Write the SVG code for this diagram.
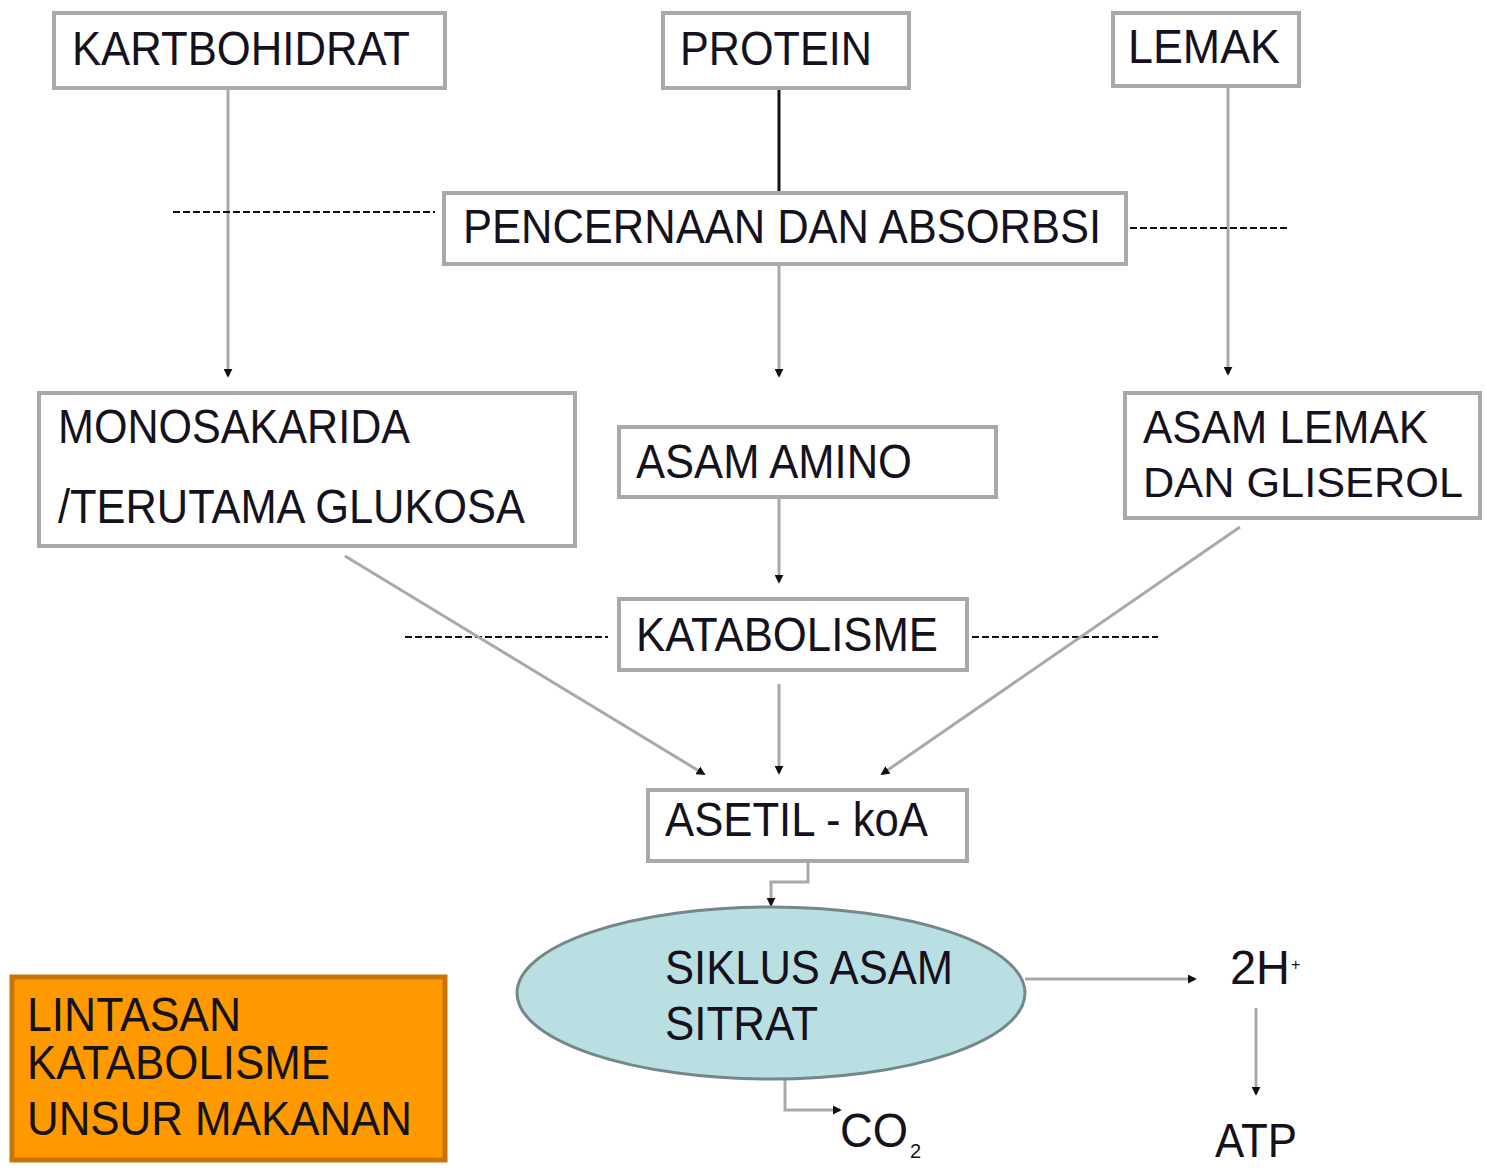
<svg xmlns="http://www.w3.org/2000/svg" width="1485" height="1168" viewBox="0 0 1485 1168">
<style>
.box{fill:#fff;stroke:#a9a9a9;stroke-width:4}
.t{font-family:"Liberation Sans",Arial,sans-serif;font-size:48px;fill:#15121e}
.ln{fill:none;stroke:#a9a9a9;stroke-width:3}
.dk{fill:none;stroke:#111;stroke-width:3}
.ds{fill:none;stroke:#111;stroke-width:2;stroke-dasharray:7,3}
</style>
<defs>
<marker id="ah" viewBox="0 0 10 10" refX="8" refY="5" markerWidth="3" markerHeight="3" orient="auto" markerUnits="strokeWidth">
<path d="M0,0 L10,5 L0,10 z" fill="#111"/>
</marker>
</defs>
<rect width="1485" height="1168" fill="#fff"/>
<g id="connectors">
<line class="ln" x1="228" y1="88" x2="228" y2="376" marker-end="url(#ah)"/>
<line class="dk" x1="779" y1="88" x2="779" y2="192"/>
<line class="ln" x1="779" y1="264" x2="779" y2="376" marker-end="url(#ah)"/>
<line class="ln" x1="1228" y1="86" x2="1228" y2="374" marker-end="url(#ah)"/>
<line class="ds" x1="173" y1="212" x2="435" y2="212"/>
<line class="ds" x1="1130" y1="228" x2="1290" y2="228"/>
<line class="ln" x1="779" y1="498" x2="779" y2="582" marker-end="url(#ah)"/>
<line class="ds" x1="405" y1="637" x2="608" y2="637"/>
<line class="ds" x1="972" y1="637" x2="1158" y2="637"/>
<line class="ln" x1="779" y1="684" x2="779" y2="773" marker-end="url(#ah)"/>
<line class="ln" x1="345" y1="556" x2="704" y2="774" marker-end="url(#ah)"/>
<line class="ln" x1="1240" y1="527" x2="882" y2="774" marker-end="url(#ah)"/>
<polyline class="ln" points="808,862 808,882 771,882 771,905" marker-end="url(#ah)"/>
<line class="ln" x1="1025" y1="979" x2="1195" y2="979" marker-end="url(#ah)"/>
<line class="ln" x1="1256" y1="1008" x2="1256" y2="1094" marker-end="url(#ah)"/>
<polyline class="ln" points="785,1080 785,1110 840,1110" marker-end="url(#ah)"/>
</g>
<g id="kartbohidrat">
<rect class="box" x="54" y="13" width="391" height="75"/>
<text class="t" x="72" y="65" textLength="338" lengthAdjust="spacingAndGlyphs">KARTBOHIDRAT</text>
</g>
<g id="protein">
<rect class="box" x="663" y="13" width="246" height="75"/>
<text class="t" x="680" y="65" textLength="192" lengthAdjust="spacingAndGlyphs">PROTEIN</text>
</g>
<g id="lemak">
<rect class="box" x="1113" y="13" width="186" height="73"/>
<text class="t" x="1128" y="63" textLength="152" lengthAdjust="spacingAndGlyphs">LEMAK</text>
</g>
<g id="pencernaan">
<rect class="box" x="444" y="193" width="682" height="71"/>
<text class="t" x="463" y="243" textLength="638" lengthAdjust="spacingAndGlyphs">PENCERNAAN DAN ABSORBSI</text>
</g>
<g id="monosakarida">
<rect class="box" x="39" y="393" width="536" height="153"/>
<text class="t" x="58" y="443" textLength="352" lengthAdjust="spacingAndGlyphs">MONOSAKARIDA</text>
<text class="t" x="58" y="523" textLength="467" lengthAdjust="spacingAndGlyphs">/TERUTAMA GLUKOSA</text>
</g>
<g id="asam-amino">
<rect class="box" x="619" y="427" width="377" height="70"/>
<text class="t" x="636" y="478" textLength="276" lengthAdjust="spacingAndGlyphs">ASAM AMINO</text>
</g>
<g id="asam-lemak">
<rect class="box" x="1125" y="393" width="355" height="125"/>
<text class="t" x="1143" y="443" style="font-size:46px" textLength="285" lengthAdjust="spacingAndGlyphs">ASAM LEMAK</text>
<text class="t" x="1143" y="497" style="font-size:43px" textLength="320" lengthAdjust="spacingAndGlyphs">DAN GLISEROL</text>
</g>
<g id="katabolisme">
<rect class="box" x="619" y="599" width="348" height="71"/>
<text class="t" x="636" y="651" textLength="302" lengthAdjust="spacingAndGlyphs">KATABOLISME</text>
</g>
<g id="asetil">
<rect class="box" x="648" y="790" width="319" height="71"/>
<text class="t" x="665" y="836" textLength="263" lengthAdjust="spacingAndGlyphs">ASETIL - koA</text>
</g>
<g id="siklus">
<ellipse cx="771" cy="993" rx="254" ry="86" fill="#badfe3" stroke="#74878a" stroke-width="3"/>
<text class="t" x="665" y="984" textLength="288" lengthAdjust="spacingAndGlyphs">SIKLUS ASAM</text>
<text class="t" x="665" y="1040" textLength="153" lengthAdjust="spacingAndGlyphs">SITRAT</text>
</g>
<g id="h2">
<text class="t" x="1230" y="984" textLength="60" lengthAdjust="spacingAndGlyphs">2H</text>
<text class="t" x="1291" y="970" style="font-size:16px">+</text>
</g>
<g id="atp">
<text class="t" x="1215" y="1157" textLength="82" lengthAdjust="spacingAndGlyphs">ATP</text>
</g>
<g id="co2">
<text class="t" x="840" y="1147" textLength="68" lengthAdjust="spacingAndGlyphs">CO</text>
<text class="t" x="910" y="1158" style="font-size:20px">2</text>
</g>
<g id="lintasan">
<rect x="12" y="977" width="433" height="183" fill="#fe9a00" stroke="#c97408" stroke-width="5"/>
<text class="t" x="27" y="1031" textLength="214" lengthAdjust="spacingAndGlyphs">LINTASAN</text>
<text class="t" x="27" y="1079" textLength="303" lengthAdjust="spacingAndGlyphs">KATABOLISME</text>
<text class="t" x="27" y="1135" textLength="385" lengthAdjust="spacingAndGlyphs">UNSUR MAKANAN</text>
</g>
</svg>
